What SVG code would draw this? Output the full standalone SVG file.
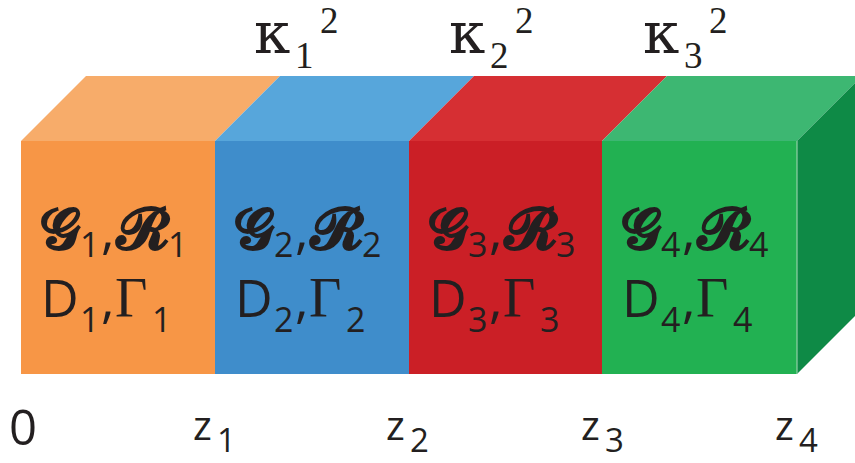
<svg xmlns="http://www.w3.org/2000/svg" width="855" height="463" viewBox="0 0 855 463">
<style>
.t{fill:#231F20}
.sans{font-family:"Open Sans","Noto Sans","DejaVu Sans",sans-serif}
.serif{font-family:"Liberation Serif","DejaVu Serif",serif}
.scr{font-family:"DejaVu Serif","DejaVu Sans","Noto Sans",serif;font-weight:bold;font-size:57px}
.big{font-size:52px}
.sub{font-size:34px}
.zsub{font-size:33px}
.gam{font-size:56px}
.kap{font-family:"DejaVu Serif",serif;font-size:58px}
.ksub{font-size:37px}
</style>
<rect width="855" height="463" fill="#FFFFFF"/>
<g id="layer1">
<polygon points="21,141 86,76 280,76 215,141" fill="#F7AC6A"/>
<rect x="21" y="141" width="194" height="233" fill="#F79646"/>
</g>
<g id="layer2">
<polygon points="215,141 280,76 474,76 409,141" fill="#57A6DB"/>
<rect x="215" y="141" width="194" height="233" fill="#3F8DCB"/>
</g>
<g id="layer3">
<polygon points="409,141 474,76 667,76 602,141" fill="#D62F33"/>
<rect x="409" y="141" width="193" height="233" fill="#CB1F26"/>
</g>
<g id="layer4">
<polygon points="602,141 667,76 862,76 797,141" fill="#3DB772"/>
<rect x="602" y="141" width="195" height="233" fill="#22B152"/>
<polygon points="797,141 862,76 862,309 797,374" fill="#0E8A46"/>
<line x1="797" y1="141" x2="797" y2="374" stroke="#A8D8B8" stroke-width="1"/>
</g>
<g id="labels" class="t">
<g id="label1">
<text class="scr" x="40" y="249">𝓖</text><text class="sans sub" x="80" y="257">1</text><text class="sans big" x="101" y="248">,</text><text class="scr" x="116" y="249">𝓡</text><text class="sans sub" x="168" y="257">1</text>
<text class="sans big" x="41" y="317">D</text><text class="sans sub" x="80" y="332">1</text><text class="sans big" x="101" y="317">,</text><text class="serif gam" x="115" y="317">Γ</text><text class="sans sub" x="152" y="332">1</text>
</g>
<g id="label2">
<text class="scr" x="234" y="249">𝓖</text><text class="sans sub" x="274" y="257">2</text><text class="sans big" x="295" y="248">,</text><text class="scr" x="310" y="249">𝓡</text><text class="sans sub" x="362" y="257">2</text>
<text class="sans big" x="235" y="317">D</text><text class="sans sub" x="274" y="332">2</text><text class="sans big" x="295" y="317">,</text><text class="serif gam" x="309" y="317">Γ</text><text class="sans sub" x="346" y="332">2</text>
</g>
<g id="label3">
<text class="scr" x="428" y="249">𝓖</text><text class="sans sub" x="468" y="257">3</text><text class="sans big" x="489" y="248">,</text><text class="scr" x="504" y="249">𝓡</text><text class="sans sub" x="556" y="257">3</text>
<text class="sans big" x="429" y="317">D</text><text class="sans sub" x="468" y="332">3</text><text class="sans big" x="489" y="317">,</text><text class="serif gam" x="503" y="317">Γ</text><text class="sans sub" x="540" y="332">3</text>
</g>
<g id="label4">
<text class="scr" x="621" y="249">𝓖</text><text class="sans sub" x="661" y="257">4</text><text class="sans big" x="682" y="248">,</text><text class="scr" x="697" y="249">𝓡</text><text class="sans sub" x="749" y="257">4</text>
<text class="sans big" x="622" y="317">D</text><text class="sans sub" x="661" y="332">4</text><text class="sans big" x="682" y="317">,</text><text class="serif gam" x="696" y="317">Γ</text><text class="sans sub" x="733" y="332">4</text>
</g>
<g id="kappas">
<text class="kap" x="254" y="53">κ</text><text class="serif ksub" x="295" y="68">1</text><text class="serif ksub" x="320" y="33">2</text>
<text class="kap" x="449" y="53">κ</text><text class="serif ksub" x="490" y="68">2</text><text class="serif ksub" x="515" y="33">2</text>
<text class="kap" x="643" y="53">κ</text><text class="serif ksub" x="684" y="68">3</text><text class="serif ksub" x="709" y="33">2</text>
</g>
<g id="axis">
<text class="sans" font-size="49" x="9" y="445">0</text>
<text class="sans" font-size="40" x="193" y="440">z</text><text class="sans zsub" x="217" y="452">1</text>
<text class="sans" font-size="40" x="386" y="440">z</text><text class="sans zsub" x="410" y="452">2</text>
<text class="sans" font-size="40" x="581" y="440">z</text><text class="sans zsub" x="605" y="452">3</text>
<text class="sans" font-size="40" x="775" y="440">z</text><text class="sans zsub" x="799" y="452">4</text>
</g>
</g>
</svg>
